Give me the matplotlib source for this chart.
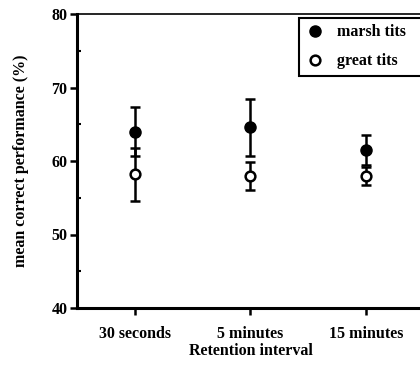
import matplotlib
matplotlib.use("Agg")
from matplotlib import pyplot as plt
from matplotlib.ticker import MultipleLocator
from matplotlib.lines import Line2D

plt.rcParams['font.family'] = ['Liberation Serif', 'DejaVu Serif']
plt.rcParams['font.weight'] = 'bold'
plt.rcParams['axes.labelweight'] = 'bold'

intervals = ['30 seconds', '5 minutes', '15 minutes']
marsh_mean = [64.0, 64.6, 61.5]
marsh_err = [3.3, 3.9, 2.1]
great_mean = [58.2, 58.0, 58.0]
great_err = [3.6, 1.9, 1.2]

fig = plt.figure(figsize=(4.2, 3.71), dpi=100)
ax = fig.add_axes([77 / 420, 63 / 371, 347 / 420, 294 / 371])

x = list(range(len(intervals)))
ax.errorbar(x, marsh_mean, yerr=marsh_err, fmt='o', color='black',
            markersize=8, elinewidth=1.8, capsize=3.5, capthick=1.8,
            zorder=3)
ax.errorbar(x, great_mean, yerr=great_err, fmt='o', color='black',
            markerfacecolor='white', markeredgewidth=1.8, markersize=7,
            elinewidth=1.8, capsize=3.5, capthick=1.8,
            zorder=4)

ax.set_xlim(-0.5, 2.5)
ax.set_ylim(40, 80)
ax.set_xticks(x)
ax.set_xticklabels(intervals)
ax.yaxis.set_major_locator(MultipleLocator(10))
ax.yaxis.set_minor_locator(MultipleLocator(5))
ax.tick_params(axis='both', which='major', direction='out', length=5,
               width=1.8, labelsize=11.5, pad=8)
ax.tick_params(axis='y', which='minor', direction='in', length=3, width=1.5)
ax.tick_params(axis='y', which='major', pad=2)

ax.spines['left'].set_linewidth(2.2)
ax.spines['bottom'].set_linewidth(2.2)
ax.spines['top'].set_linewidth(1.2)
ax.spines['right'].set_visible(False)

ax.set_xlabel('Retention interval', fontsize=11.5, labelpad=1)
ax.set_ylabel('mean correct performance (%)', fontsize=11.5, labelpad=16)

handles = [
    Line2D([], [], linestyle='none', marker='o', color='black', markersize=8),
    Line2D([], [], linestyle='none', marker='o', color='black',
           markerfacecolor='white', markeredgewidth=1.8, markersize=7),
]
leg = ax.legend(handles, ['marsh tits', 'great tits'], loc='upper left',
                bbox_to_anchor=(299 / 420, 1 - 78 / 371, 140 / 420, 60 / 371),
                bbox_transform=fig.transFigure, mode='expand',
                fancybox=False, edgecolor='black', fontsize=11.5,
                handletextpad=0.8, borderaxespad=0, framealpha=1,
                handlelength=1.2, borderpad=0.4, labelspacing=0.8)
leg.get_frame().set_linewidth(1.5)

fig.savefig('out.png', dpi=100)
